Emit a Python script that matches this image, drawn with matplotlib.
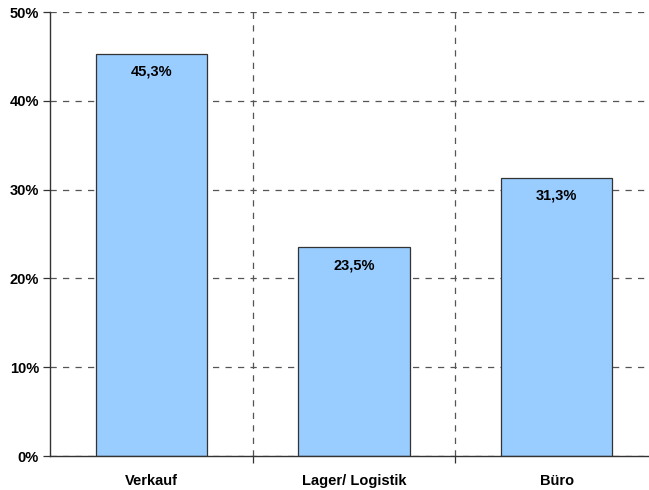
import matplotlib.pyplot as plt
from matplotlib.ticker import FixedLocator, NullFormatter

plt.rcParams['font.family'] = ['Liberation Sans', 'DejaVu Sans']

categories = ['Verkauf', 'Lager/ Logistik', 'Büro']
values = [45.3, 23.5, 31.3]
labels = ['45,3%', '23,5%', '31,3%']
yticks = [0, 10, 20, 30, 40, 50]

fig = plt.figure(figsize=(6.49, 4.9), dpi=100)
ax = fig.add_axes([50 / 649, 34 / 490, 608 / 649, 444 / 490])

x = list(range(len(categories)))
ax.bar(x, values, width=0.55, color='#99CCFF', edgecolor='#333333', linewidth=0.9, zorder=3)

for xi, v, lab in zip(x, values, labels):
    ax.text(xi, v - 2.0, lab, ha='center', va='center', fontsize=10.5, fontweight='bold', zorder=4)

ax.set_xlim(-0.5, 2.5)
ax.set_ylim(0, 50)

ax.set_yticks(yticks)
ax.set_yticklabels([f'{t}%' for t in yticks], fontsize=10.5, fontweight='bold')

# category boundaries as major ticks, labels at minor ticks
ax.xaxis.set_major_locator(FixedLocator([0.5, 1.5, 2.5]))
ax.xaxis.set_major_formatter(NullFormatter())
ax.xaxis.set_minor_locator(FixedLocator(x))
ax.set_xticklabels(categories, minor=True, fontsize=10.5, fontweight='bold')
ax.tick_params(axis='x', which='minor', length=0, pad=13)
ax.tick_params(axis='x', which='major', length=5, width=0.9, color='#333333', direction='out')
ax.tick_params(axis='y', length=5, width=0.9, color='#333333', pad=3)

ax.grid(True, which='major', color='#555555', linestyle=(0, (5, 5)), linewidth=0.9, zorder=0)

for s in ['top', 'right']:
    ax.spines[s].set_visible(False)
for s in ['left', 'bottom']:
    ax.spines[s].set_color('#333333')
    ax.spines[s].set_linewidth(1.0)
    ax.spines[s].set_zorder(5)

fig.savefig('out.png', dpi=100)
